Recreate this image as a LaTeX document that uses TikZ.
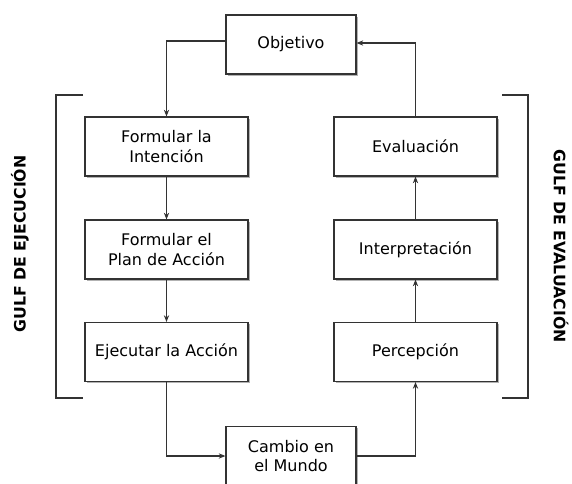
\documentclass[tikz,border=0pt]{standalone}
\usepackage{fontspec}
\setmainfont{DejaVu Sans}
\usetikzlibrary{arrows.meta}
\begin{document}
\begin{tikzpicture}[x=0.75pt,y=-0.75pt,
  box/.style={draw=black!80,line width=0.9pt,fill=white,minimum width=122.25pt,minimum height=44.25pt,
    align=center,inner sep=0pt,font=\fontsize{12}{14.5}\selectfont},
  shadowbox/.style={fill=black!30,minimum height=44.25pt,inner sep=0pt},
  conn/.style={draw=black!80,line width=0.9pt,-{Stealth[length=5pt,width=4pt]}},
  brk/.style={draw=black!80,line width=0.9pt},
  gulf/.style={font=\fontsize{11.8}{14}\selectfont\bfseries}]
\useasboundingbox (0,0) rectangle (572,483);
% shadows
\foreach \cx/\cy/\w in {291/44.5/97.5, 166.5/146.5/122.25, 166.5/249.5/122.25, 166.5/352/122.25, 415.5/146.5/122.25, 415.5/249.5/122.25, 415.5/352/122.25, 291/456/97.5}
  \node[shadowbox,minimum width=\w pt] at (\cx+1.5,\cy+1.5) {};
\node[box,minimum width=97.5pt] (obj) at (291,44.5) {Objetivo};
\node[box] (fi) at (166.5,146.5) {Formular la\\ Intención};
\node[box] (fp) at (166.5,249.5) {Formular el\\ Plan de Acción};
\node[box] (ej) at (166.5,352) {Ejecutar la Acción};
\node[box] (ev) at (415.5,146.5) {Evaluación};
\node[box] (in) at (415.5,249.5) {Interpretación};
\node[box] (pe) at (415.5,352) {Percepción};
\node[box,minimum width=97.5pt] (cm) at (291,456) {Cambio en\\ el Mundo};
% connectors
\draw[conn] (obj.west |- 0,41) -| (fi.north);
\draw[conn] (fi) -- (fp);
\draw[conn] (fp) -- (ej);
\draw[conn] (ej.south) |- (cm.west);
\draw[conn] (cm.east) -| (pe.south);
\draw[conn] (pe) -- (in);
\draw[conn] (in) -- (ev);
\draw[conn] (ev.north) |- (obj.east |- 0,43);
% brackets
\coordinate (lb1) at (83,95);
\coordinate (lb2) at (83,398);
\draw[brk] (lb1) -- (56,95) -- (56,398) -- (lb2);
\coordinate (rb1) at (502,95);
\coordinate (rb2) at (502,398);
\draw[brk] (rb1) -- (528,95) -- (528,398) -- (rb2);
\node[gulf,rotate=90] (ge) at (20,244) {GULF DE EJECUCIÓN};
\node[gulf,rotate=-90] (gv) at (561,246) {GULF DE EVALUACIÓN};
\end{tikzpicture}
\end{document}
